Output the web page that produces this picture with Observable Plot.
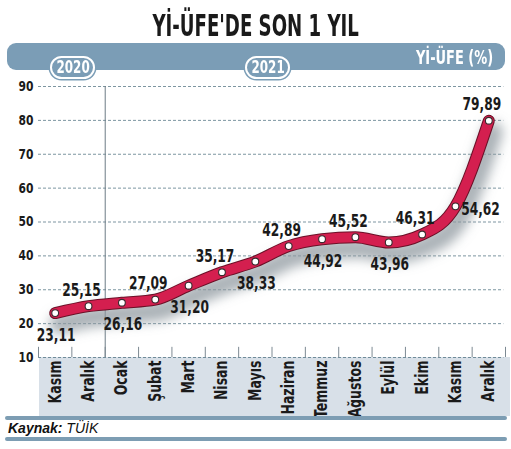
<!DOCTYPE html>
<html>
<head>
<meta charset="utf-8">
<script src="https://cdn.jsdelivr.net/npm/d3@7"></script>
<script src="https://cdn.jsdelivr.net/npm/@observablehq/plot@0.6"></script>
<style>
  html, body { margin: 0; padding: 0; background: #fff; }
  body { width: 511px; height: 449px; position: relative; overflow: hidden;
         font-family: "DejaVu Sans Condensed", sans-serif; }
  .abs { position: absolute; }
  #title { left: 0; width: 511px; top: 7px; text-align: center; font-size: 31px; font-weight: bold;
           color: #1a1a1a; transform: scaleX(0.65); transform-origin: 256px 0; white-space: nowrap; }
  #band { left: 7px; top: 43px; width: 498px; height: 27px; background: #7b9db6; border-radius: 9px; }
  #unit { right: 18px; top: 44px; font-size: 20px; font-weight: bold; color: #fff; line-height: 26px;
          transform: scaleX(0.72); transform-origin: right center; white-space: nowrap; }
  .pill { top: 56px; height: 19px; width: 41px; background: #7b9db6; border: 2.5px solid #fff;
          border-radius: 12px; box-shadow: 0 0 0 1.5px #7b9db6; z-index: 3; }
  .pill span { display: block; color: #fff; font-size: 17px; font-weight: bold; text-align: center;
               line-height: 19px; transform: scaleX(0.78); }
  #gray { left: 39px; top: 357px; width: 471px; height: 59px; background: #d8e0e8; }
  #chart { left: 0; top: 70px; }
  .bar { left: 5px; width: 502px; height: 4px; background: #7d9db3; border-radius: 2px; }
  #source { left: 8px; top: 420px; font-family: "Liberation Sans", Arial, sans-serif; font-style: italic;
            font-size: 14px; color: #111; line-height: 17px; }
</style>
</head>
<body>
<div id="title" class="abs">Yİ-ÜFE'DE SON 1 YIL</div>
<div id="band" class="abs"></div>
<div id="unit" class="abs">Yİ-ÜFE (%)</div>
<div class="abs pill" style="left:50px"><span>2020</span></div>
<div class="abs pill" style="left:245px"><span>2021</span></div>
<div id="gray" class="abs"></div>
<div id="chart" class="abs"></div>
<div class="abs bar" style="top:416px"></div>
<div id="source" class="abs"><b>Kaynak:</b> TÜİK</div>
<div class="abs bar" style="top:437px"></div>
<script>
const months = ["Kasım","Aralık","Ocak","Şubat","Mart","Nisan","Mayıs","Haziran","Temmuz","Ağustos","Eylül","Ekim","Kasım","Aralık"];
const values = [23.11, 25.15, 26.16, 27.09, 31.20, 35.17, 38.33, 42.89, 44.92, 45.52, 43.96, 46.31, 54.62, 79.89];
const labelSide = ["below","above","below","above","below","above","below","above","below","above","below","above","right","above"];
const yTicks = [10, 20, 30, 40, 50, 60, 70, 80, 90];

const data = values.map((v, i) => ({i, v, month: months[i], side: labelSide[i]}));
const boundaries = d3.range(-0.5, months.length, 1);
const fmt = v => v.toFixed(2).replace(".", ",");
const offs = {below: {dx: 1, dy: 22}, above: {dx: -7, dy: -16}, right: {dx: 25, dy: 3}};

const font = "DejaVu Sans Condensed, sans-serif";
const curve = "monotone-x";

const chart = Plot.plot({
  width: 511,
  height: 346,
  marginLeft: 38,
  marginRight: 6,
  marginTop: 16,
  marginBottom: 59,
  style: {fontFamily: font, background: "transparent", overflow: "visible"},
  x: {domain: [-0.5, months.length - 0.5], axis: null},
  y: {domain: [10, 90], axis: null},
  marks: [
    Plot.gridY(yTicks, {stroke: "#3f6374", strokeOpacity: 0.85, strokeDasharray: "3,2", strokeWidth: 0.8, x1: -0.5, x2: 13.45}),
    Plot.ruleX([1.5], {y1: 10, y2: 90, stroke: "#6c7c86", strokeWidth: 1}),
    Plot.ruleX(boundaries, {y1: 10, y2: 13, stroke: "#7d8a93", strokeWidth: 1}),
    Plot.axisY(yTicks, {label: null, tickSize: 0, tickPadding: 5, fontSize: 14, fontWeight: "bold", fill: "#1a1a1a", className: "sq-y"}),
    Plot.axisX(d3.range(months.length), {label: null, tickSize: 0, tickPadding: 3, tickRotate: -90, tickFormat: i => months[i],
      fontSize: 17, fontWeight: "bold", fill: "#1a1a1a", className: "sq-x"}),
    // shadow
    Plot.line(data, {x: "i", y: "v", curve, stroke: "#8f989f", strokeWidth: 20, strokeOpacity: 0.75, dx: 4, dy: 11, className: "shadow"}),
    Plot.line(data, {x: "i", y: "v", curve, stroke: "#6b1027", strokeWidth: 12, strokeLinecap: "round", strokeLinejoin: "round"}),
    Plot.line(data, {x: "i", y: "v", curve, stroke: "#d41f4f", strokeWidth: 10, strokeLinecap: "round", strokeLinejoin: "round"}),
    Plot.dot(data, {x: "i", y: "v", r: 3.4, fill: "#fff", stroke: "#3a2a2e", strokeWidth: 1.1}),
    ...["below","above","right"].map(s => Plot.text(data.filter(d => d.side === s), {
      x: "i", y: "v", text: d => fmt(d.v), dx: offs[s].dx, dy: offs[s].dy,
      fontSize: 17, fill: "#1a1a1a", fontWeight: "bold", className: "sq-v"
    }))
  ]
});
document.getElementById("chart").appendChild(chart);

const svg = d3.select(chart);
// blur the shadow line
const defs = svg.insert("defs", ":first-child");
defs.append("filter").attr("id", "shadowBlur").attr("x", "-20%").attr("y", "-30%").attr("width", "140%").attr("height", "160%")
  .append("feGaussianBlur").attr("stdDeviation", 6);
svg.selectAll(".shadow").attr("filter", "url(#shadowBlur)");

// condense text horizontally (no condensed narrow face installed)
function squeeze(sel, s) {
  svg.selectAll(sel + " text").each(function() {
    const t = this.getAttribute("transform") || "";
    const x = +this.getAttribute("x") || 0, y = +this.getAttribute("y") || 0;
    this.setAttribute("transform", `${t} translate(${x},${y}) scale(${s},1) translate(${-x},${-y})`);
  });
}
squeeze(".sq-y", 0.85);
squeeze(".sq-x", 0.82);
squeeze(".sq-v", 0.8);
</script>
</body>
</html>
